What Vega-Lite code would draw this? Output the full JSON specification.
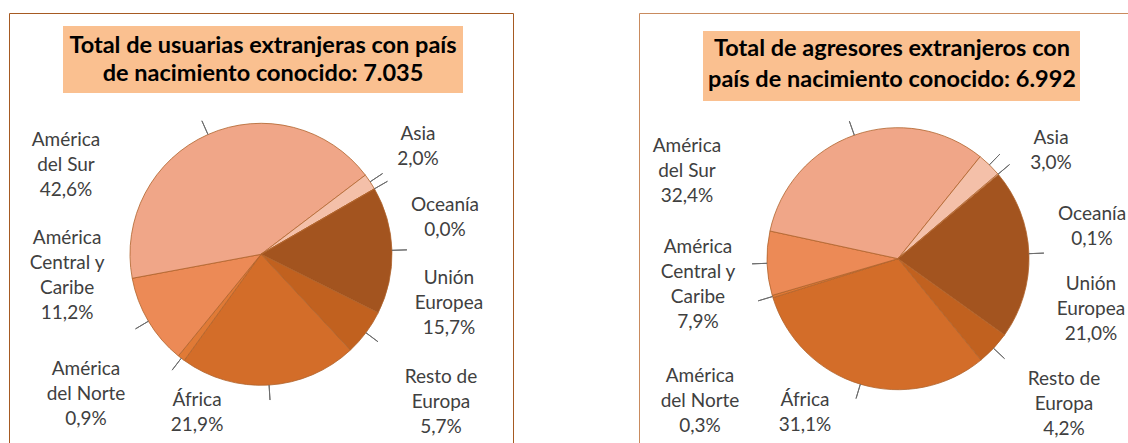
{
  "$schema": "https://vega.github.io/schema/vega-lite/v6.json",
  "padding": {"left": 8, "top": 12, "right": 0, "bottom": 0},
  "autosize": {"type": "pad"},
  "background": "white",
  "spacing": 124,
  "config": {
    "view": {"stroke": null},
    "font": "Lato",
    "text": {"fontSize": 19, "font": "Lato", "color": "#404040", "align": "center", "baseline": "middle", "lineBreak": "\n", "lineHeight": 25, "radius": 175}
  },
  "datasets": {
    "usuarias": [
      {"region": "Unión Europea", "valor": 15.7, "orden": 1, "etiqueta": "Unión\nEuropea\n15,7%"},
      {"region": "Resto de Europa", "valor": 5.7, "orden": 2, "etiqueta": "Resto de\nEuropa\n5,7%"},
      {"region": "África", "valor": 21.9, "orden": 3, "etiqueta": "África\n21,9%"},
      {"region": "América del Norte", "valor": 0.9, "orden": 4, "etiqueta": "América\ndel Norte\n0,9%"},
      {"region": "América Central y Caribe", "valor": 11.2, "orden": 5, "etiqueta": "América\nCentral y\nCaribe\n11,2%"},
      {"region": "América del Sur", "valor": 42.6, "orden": 6, "etiqueta": "América\ndel Sur\n42,6%"},
      {"region": "Asia", "valor": 2.0, "orden": 7, "etiqueta": "Asia\n2,0%"},
      {"region": "Oceanía", "valor": 0.0, "orden": 8, "etiqueta": "Oceanía\n0,0%"}
    ],
    "agresores": [
      {"region": "Unión Europea", "valor": 21.0, "orden": 1, "etiqueta": "Unión\nEuropea\n21,0%"},
      {"region": "Resto de Europa", "valor": 4.2, "orden": 2, "etiqueta": "Resto de\nEuropa\n4,2%"},
      {"region": "África", "valor": 31.1, "orden": 3, "etiqueta": "África\n31,1%"},
      {"region": "América del Norte", "valor": 0.3, "orden": 4, "etiqueta": "América\ndel Norte\n0,3%"},
      {"region": "América Central y Caribe", "valor": 7.9, "orden": 5, "etiqueta": "América\nCentral y\nCaribe\n7,9%"},
      {"region": "América del Sur", "valor": 32.4, "orden": 6, "etiqueta": "América\ndel Sur\n32,4%"},
      {"region": "Asia", "valor": 3.0, "orden": 7, "etiqueta": "Asia\n3,0%"},
      {"region": "Oceanía", "valor": 0.1, "orden": 8, "etiqueta": "Oceanía\n0,1%"}
    ]
  },
  "hconcat": [
    {
      "width": 504,
      "height": 431,
      "view": {"stroke": "#A65A22", "strokeWidth": 1, "strokeDasharray": [935, 504, 431]},
      "layer": [
        {
          "data": {"values": [{"titulo": "Total de usuarias extranjeras con país\nde nacimiento conocido: 7.035"}]},
          "layer": [
            {"mark": {"type": "rect", "x": 54, "x2": 454, "y": 13, "y2": 80, "color": "#FAC090"}},
            {
              "mark": {"type": "text", "x": 254, "y": 33, "radius": 0, "fontSize": 23.5, "fontWeight": "bold", "color": "#000000", "lineHeight": 28},
              "encoding": {"text": {"field": "titulo"}}
            }
          ]
        },
        {
          "data": {"name": "usuarias"},
          "layer": [
            {
              "mark": {"type": "arc", "outerRadius": 131, "yOffset": 25.8, "stroke": "#B0632C", "strokeWidth": 0.8},
              "encoding": {
                "theta": {"field": "valor", "type": "quantitative", "stack": true, "scale": {"domain": [0, 100], "range": [1.0472, 7.3304]}},
                "order": {"field": "orden", "type": "quantitative"},
                "color": {
                  "field": "region", "type": "nominal", "legend": null,
                  "scale": {
                    "domain": ["Unión Europea", "Resto de Europa", "África", "América del Norte", "América Central y Caribe", "América del Sur", "Asia", "Oceanía"],
                    "range": ["#A3541F", "#C1611F", "#D36D29", "#E07A36", "#EC8A56", "#F0A688", "#F4C0A9", "#F7D3C2"]
                  }
                }
              }
            },
            {
              "mark": {"type": "arc", "innerRadius": 131, "outerRadius": 146, "padAngle": 3, "yOffset": 25.8, "fill": null, "stroke": "#6D6D6D", "strokeWidth": 1},
              "encoding": {
                "theta": {"field": "valor", "type": "quantitative", "stack": true},
                "order": {"field": "orden", "type": "quantitative"}
              }
            },
            {
              "transform": [{"stack": "valor", "groupby": [], "sort": [{"field": "orden", "order": "ascending"}], "as": ["ini", "fin"]}],
              "layer": [
                {"transform": [{"filter": "datum.region === 'Unión Europea'"}], "mark": {"type": "text", "dx": 36.4, "dy": 137}, "encoding": {"theta": {"field": "ini", "type": "quantitative"}, "text": {"field": "etiqueta"}}},
                {"transform": [{"filter": "datum.region === 'Resto de Europa'"}], "mark": {"type": "text", "dx": 23.4, "dy": 70.4}, "encoding": {"theta": {"field": "ini", "type": "quantitative"}, "text": {"field": "etiqueta"}}},
                {"transform": [{"filter": "datum.region === 'África'"}], "mark": {"type": "text", "dx": -183.2, "dy": 43.9}, "encoding": {"theta": {"field": "ini", "type": "quantitative"}, "text": {"field": "etiqueta"}}},
                {"transform": [{"filter": "datum.region === 'América del Norte'"}], "mark": {"type": "text", "dx": -72.4, "dy": -1.3}, "encoding": {"theta": {"field": "ini", "type": "quantitative"}, "text": {"field": "etiqueta"}}},
                {"transform": [{"filter": "datum.region === 'América Central y Caribe'"}], "mark": {"type": "text", "dx": -83.5, "dy": -126.7}, "encoding": {"theta": {"field": "ini", "type": "quantitative"}, "text": {"field": "etiqueta"}}},
                {"transform": [{"filter": "datum.region === 'América del Sur'"}], "mark": {"type": "text", "dx": -23.0, "dy": -120.6}, "encoding": {"theta": {"field": "ini", "type": "quantitative"}, "text": {"field": "etiqueta"}}},
                {"transform": [{"filter": "datum.region === 'Asia'"}], "mark": {"type": "text", "dx": 17.6, "dy": 11.8}, "encoding": {"theta": {"field": "ini", "type": "quantitative"}, "text": {"field": "etiqueta"}}},
                {"transform": [{"filter": "datum.region === 'Oceanía'"}], "mark": {"type": "text", "dx": 32.4, "dy": 63.5}, "encoding": {"theta": {"field": "ini", "type": "quantitative"}, "text": {"field": "etiqueta"}}}
              ]
            }
          ]
        }
      ]
    },
    {
      "width": 492,
      "height": 431,
      "view": {"stroke": "#C98B5E", "strokeWidth": 1, "strokeDasharray": [492, 923, 431]},
      "layer": [
        {
          "data": {"values": [{"titulo": "Total de agresores extranjeros con\npaís de nacimiento conocido: 6.992"}]},
          "layer": [
            {"mark": {"type": "rect", "x": 64, "x2": 441, "y": 18, "y2": 88, "color": "#FAC090"}},
            {
              "mark": {"type": "text", "x": 253, "y": 36, "radius": 0, "fontSize": 23.5, "fontWeight": "bold", "color": "#000000", "lineHeight": 31},
              "encoding": {"text": {"field": "titulo"}}
            }
          ]
        },
        {
          "data": {"name": "agresores"},
          "layer": [
            {
              "mark": {"type": "arc", "outerRadius": 131, "xOffset": 13, "yOffset": 30.2, "stroke": "#B0632C", "strokeWidth": 0.8},
              "encoding": {
                "theta": {"field": "valor", "type": "quantitative", "stack": true, "scale": {"domain": [0, 100], "range": [0.8727, 7.1559]}},
                "order": {"field": "orden", "type": "quantitative"},
                "color": {
                  "field": "region", "type": "nominal", "legend": null,
                  "scale": {
                    "domain": ["Unión Europea", "Resto de Europa", "África", "América del Norte", "América Central y Caribe", "América del Sur", "Asia", "Oceanía"],
                    "range": ["#A3541F", "#C1611F", "#D36D29", "#E07A36", "#EC8A56", "#F0A688", "#F4C0A9", "#F7D3C2"]
                  }
                }
              }
            },
            {
              "mark": {"type": "arc", "innerRadius": 131, "outerRadius": 146, "padAngle": 3, "xOffset": 13, "yOffset": 30.2, "fill": null, "stroke": "#6D6D6D", "strokeWidth": 1},
              "encoding": {
                "theta": {"field": "valor", "type": "quantitative", "stack": true},
                "order": {"field": "orden", "type": "quantitative"}
              }
            },
            {
              "transform": [{"stack": "valor", "groupby": [], "sort": [{"field": "orden", "order": "ascending"}], "as": ["ini", "fin"]}],
              "layer": [
                {"transform": [{"filter": "datum.region === 'Unión Europea'"}], "mark": {"type": "text", "dx": 71.9, "dy": 168}, "encoding": {"theta": {"field": "ini", "type": "quantitative"}, "text": {"field": "etiqueta"}}},
                {"transform": [{"filter": "datum.region === 'Resto de Europa'"}], "mark": {"type": "text", "dx": 36.7, "dy": 48.6}, "encoding": {"theta": {"field": "ini", "type": "quantitative"}, "text": {"field": "etiqueta"}}},
                {"transform": [{"filter": "datum.region === 'África'"}], "mark": {"type": "text", "dx": -190.8, "dy": 36.5}, "encoding": {"theta": {"field": "ini", "type": "quantitative"}, "text": {"field": "etiqueta"}}},
                {"transform": [{"filter": "datum.region === 'América del Norte'"}], "mark": {"type": "text", "dx": -17.9, "dy": 95.4}, "encoding": {"theta": {"field": "ini", "type": "quantitative"}, "text": {"field": "etiqueta"}}},
                {"transform": [{"filter": "datum.region === 'América Central y Caribe'"}], "mark": {"type": "text", "dx": -19.0, "dy": -30.9}, "encoding": {"theta": {"field": "ini", "type": "quantitative"}, "text": {"field": "etiqueta"}}},
                {"transform": [{"filter": "datum.region === 'América del Sur'"}], "mark": {"type": "text", "dx": -27.0, "dy": -45.5}, "encoding": {"theta": {"field": "ini", "type": "quantitative"}, "text": {"field": "etiqueta"}}},
                {"transform": [{"filter": "datum.region === 'Asia'"}], "mark": {"type": "text", "dx": 56.3, "dy": 46.3}, "encoding": {"theta": {"field": "ini", "type": "quantitative"}, "text": {"field": "etiqueta"}}},
                {"transform": [{"filter": "datum.region === 'Oceanía'"}], "mark": {"type": "text", "dx": 73.7, "dy": 99.3}, "encoding": {"theta": {"field": "ini", "type": "quantitative"}, "text": {"field": "etiqueta"}}}
              ]
            }
          ]
        }
      ]
    }
  ]
}
